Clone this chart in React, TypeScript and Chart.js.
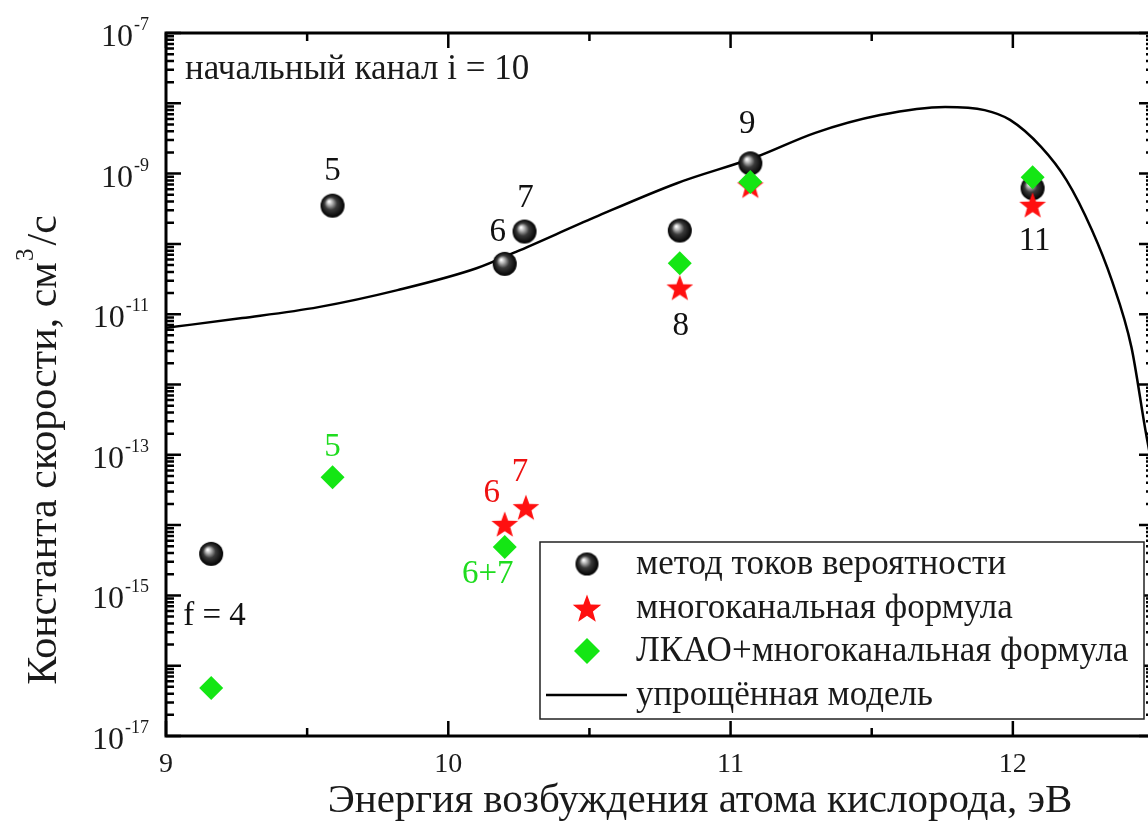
import React, { useEffect, useRef } from "react";
import { Chart, registerables } from "chart.js";

Chart.register(...registerables);

// ---------------- data ----------------
const seriesLabels = [
  "метод токов вероятности",
  "многоканальная формула",
  "ЛКАО+многоканальная формула",
  "упрощённая модель",
];

// метод токов вероятности (black spheres)
const probX = [9.16, 9.59, 10.2, 10.27, 10.82, 11.07, 12.07];
const probY = [3.9e-15, 3.5e-10, 5.2e-11, 1.5e-10, 1.55e-10, 1.4e-9, 6.2e-10];

// многоканальная формула (red stars)
const multiX = [10.2, 10.275, 10.82, 11.07, 12.07];
const multiY = [1.04e-14, 1.8e-14, 2.4e-11, 6.8e-10, 3.6e-10];

// ЛКАО+многоканальная формула (green diamonds)
const lcaoX = [9.16, 9.59, 10.2, 10.82, 11.07, 12.07];
const lcaoY = [4.8e-17, 4.8e-14, 4.9e-15, 5.3e-11, 7.6e-10, 8.9e-10];

// упрощённая модель (solid curve)
const modelX = [9.0, 9.27, 9.54, 9.82, 10.1, 10.24, 10.52, 10.81, 11.09, 11.3, 11.53, 11.76, 11.9, 11.99, 12.1, 12.19, 12.28, 12.35, 12.42, 12.47, 12.5];
const modelY = [6.4e-12, 8.8e-12, 1.26e-11, 2.2e-11, 4.5e-11, 7.7e-11, 2.4e-10, 7.3e-10, 1.72e-9, 3.8e-9, 6.8e-9, 8.85e-9, 8.0e-9, 5.8e-9, 2.4e-9, 8.1e-10, 1.58e-10, 3.07e-11, 3.4e-12, 2.2e-13, 5e-14];

// axis ticks
const xTickLabels = [9, 10, 11, 12];
const xMinorTicks = [9.5, 10.5, 11.5, 12.5];
const yLabelExps = [-7, -9, -11, -13, -15, -17];
const yDecadeExps = [-7, -8, -9, -10, -11, -12, -13, -14, -15, -16, -17];

const xTitle = "Энергия возбуждения атома кислорода, эВ";
const yTitleMain = "Константа скорости, см";
const yTitleSup = "3";
const yTitleEnd = "/с";
const channelNote = "начальный канал i = 10";

// point annotations: text, anchor x, anchor y, colour
const noteText = ["5", "6", "7", "8", "9", "11", "f = 4", "5", "6", "7", "6+7"];
const noteX = [9.59, 10.2, 10.27, 10.82, 11.07, 12.07, 9.16, 9.59, 10.2, 10.275, 10.2];
const noteY = [3.5e-10, 5.2e-11, 1.5e-10, 2.4e-11, 1.4e-9, 3.6e-10, 3.9e-15, 4.8e-14, 1.04e-14, 1.8e-14, 4.9e-15];
const noteColor = ["#111", "#111", "#111", "#111", "#111", "#111", "#111", "#1fdc1f", "#ee1111", "#ee1111", "#1fdc1f"];

// ---------------- styling ----------------
const SERIF = '"Liberation Serif", "Times New Roman", serif';
const noteDx = [0, -7, 1, 1, -3, 2, 0, 0, -13, -6, -17];
const noteDy = [-34, -32, -33, 39, -39, 37, 62, -30, -31, -35, 27];
const noteAlign: CanvasTextAlign[] = ["center", "center", "center", "center", "center", "center", "left", "center", "center", "center", "center"];

function makeSphere(r: number): HTMLCanvasElement {
  const c = document.createElement("canvas");
  const s = Math.ceil(r * 2 + 4);
  c.width = s;
  c.height = s;
  const g = c.getContext("2d")!;
  const cx = s / 2, cy = s / 2;
  const grad = g.createRadialGradient(cx - r * 0.3, cy - r * 0.35, 0.5, cx, cy, r);
  grad.addColorStop(0, "#ffffff");
  grad.addColorStop(0.18, "#bdbdbd");
  grad.addColorStop(0.5, "#3a3a3a");
  grad.addColorStop(1, "#000000");
  g.fillStyle = grad;
  g.beginPath();
  g.arc(cx, cy, r, 0, Math.PI * 2);
  g.fill();
  return c;
}

function makeStar(R: number, r: number, color: string): HTMLCanvasElement {
  const c = document.createElement("canvas");
  const s = Math.ceil(R * 2 + 4);
  c.width = s;
  c.height = s;
  const g = c.getContext("2d")!;
  const cx = s / 2, cy = s / 2 + R * 0.1;
  g.fillStyle = color;
  g.beginPath();
  for (let i = 0; i < 10; i++) {
    const rad = i % 2 === 0 ? R : r;
    const a = -Math.PI / 2 + (i * Math.PI) / 5;
    const px = cx + rad * Math.cos(a);
    const py = cy + rad * Math.sin(a);
    if (i === 0) g.moveTo(px, py);
    else g.lineTo(px, py);
  }
  g.closePath();
  g.fill();
  return c;
}

function drawSupLabel(
  ctx: CanvasRenderingContext2D,
  base: string,
  sup: string,
  rightX: number,
  baseY: number,
  baseFont: number,
  supFont: number
) {
  ctx.font = `${supFont}px ${SERIF}`;
  const sw = ctx.measureText(sup).width;
  ctx.font = `${baseFont}px ${SERIF}`;
  const bw = ctx.measureText(base).width;
  ctx.textAlign = "left";
  ctx.textBaseline = "alphabetic";
  ctx.fillText(base, rightX - sw - bw - 1, baseY);
  ctx.font = `${supFont}px ${SERIF}`;
  ctx.fillText(sup, rightX - sw, baseY - baseFont * 0.5);
}

export default function App() {
  const ref = useRef<HTMLCanvasElement | null>(null);

  useEffect(() => {
    const canvas = ref.current;
    if (!canvas) return;
    const sphere = makeSphere(12);
    const star = makeStar(14, 5.8, "#ff1010");
    const legendSphere = makeSphere(11.5);
    const legendStar = makeStar(15, 6.2, "#ff1010");

    const decorPlugin = {
      id: "decor",
      beforeDatasetsDraw(chart: any) {
        const ctx = chart.ctx as CanvasRenderingContext2D;
        ctx.save();
        ctx.globalCompositeOperation = "destination-over";
        ctx.fillStyle = "#fff";
        ctx.fillRect(0, 0, chart.width, chart.height);
        ctx.restore();
      },
      afterDatasetsDraw(chart: any) {
        const ctx = chart.ctx as CanvasRenderingContext2D;
        const xs = chart.scales.x;
        const ys = chart.scales.y;
        const { left, right, top, bottom } = chart.chartArea;
        ctx.save();
        ctx.strokeStyle = "#000";
        ctx.fillStyle = "#000";

        // frame
        ctx.lineWidth = 3;
        ctx.strokeRect(left, top, right - left, bottom - top);

        // y ticks (both sides, inward)
        ctx.lineWidth = 2.5;
        yDecadeExps.forEach((e) => {
          const yy = ys.getPixelForValue(Math.pow(10, e));
          ctx.beginPath();
          ctx.moveTo(left, yy);
          ctx.lineTo(left + 15, yy);
          ctx.moveTo(right, yy);
          ctx.lineTo(right - 15, yy);
          ctx.stroke();
          if (e > -17) {
            for (let m = 2; m <= 9; m++) {
              const my = ys.getPixelForValue(m * Math.pow(10, e - 1));
              ctx.beginPath();
              ctx.moveTo(left, my);
              ctx.lineTo(left + 8, my);
              ctx.moveTo(right, my);
              ctx.lineTo(right - 8, my);
              ctx.stroke();
            }
          }
        });
        // x ticks (top and bottom, inward)
        xTickLabels.forEach((v) => {
          const xx = xs.getPixelForValue(v);
          ctx.beginPath();
          ctx.moveTo(xx, bottom);
          ctx.lineTo(xx, bottom - 15);
          ctx.moveTo(xx, top);
          ctx.lineTo(xx, top + 15);
          ctx.stroke();
        });
        xMinorTicks.forEach((v) => {
          const xx = xs.getPixelForValue(v);
          ctx.beginPath();
          ctx.moveTo(xx, bottom);
          ctx.lineTo(xx, bottom - 8);
          ctx.moveTo(xx, top);
          ctx.lineTo(xx, top + 8);
          ctx.stroke();
        });

        // y tick labels
        ctx.fillStyle = "#1a1a1a";
        yLabelExps.forEach((e) => {
          const yy = ys.getPixelForValue(Math.pow(10, e));
          drawSupLabel(ctx, "10", String(e), 149, yy + 13, 32, 18);
        });
        // x tick labels
        ctx.font = `28px ${SERIF}`;
        ctx.textAlign = "center";
        ctx.textBaseline = "alphabetic";
        xTickLabels.forEach((v) => {
          ctx.fillText(String(v), xs.getPixelForValue(v), 772);
        });

        // x title
        ctx.font = `41px ${SERIF}`;
        ctx.textAlign = "center";
        ctx.fillText(xTitle, 700, 812);

        // y title (rotated)
        ctx.save();
        ctx.translate(56, 450);
        ctx.rotate(-Math.PI / 2);
        const tf = 42;
        ctx.font = `${tf}px ${SERIF}`;
        const w1 = ctx.measureText(yTitleMain).width;
        ctx.font = `${tf * 0.6}px ${SERIF}`;
        const w2 = ctx.measureText(yTitleSup).width;
        ctx.font = `${tf}px ${SERIF}`;
        const w3 = ctx.measureText(yTitleEnd).width;
        const total = w1 + w2 + 4 + w3;
        let cx = -total / 2;
        ctx.textAlign = "left";
        ctx.fillText(yTitleMain, cx, 0);
        cx += w1;
        ctx.font = `${tf * 0.6}px ${SERIF}`;
        ctx.fillText(yTitleSup, cx + 1, -tf * 0.55);
        cx += w2 + 4;
        ctx.font = `${tf}px ${SERIF}`;
        ctx.fillText(yTitleEnd, cx, 0);
        ctx.restore();

        // channel note
        ctx.font = `35px ${SERIF}`;
        ctx.textAlign = "left";
        ctx.fillStyle = "#1a1a1a";
        ctx.fillText(channelNote, 185, 79);

        // point annotations
        ctx.font = `33px ${SERIF}`;
        ctx.textBaseline = "middle";
        noteText.forEach((t, i) => {
          ctx.fillStyle = noteColor[i];
          ctx.textAlign = noteAlign[i];
          const px = xs.getPixelForValue(noteX[i]) + noteDx[i];
          const py = ys.getPixelForValue(noteY[i]) + noteDy[i];
          ctx.fillText(t, noteAlign[i] === "left" ? px - 28 : px, py);
        });

        // legend
        const lx = 540, ly = 542, lw = 604, lh = 177;
        ctx.fillStyle = "#fff";
        ctx.fillRect(lx, ly, lw, lh);
        ctx.strokeStyle = "#222";
        ctx.lineWidth = 1.5;
        ctx.strokeRect(lx, ly, lw, lh);
        const rowY = [564, 608, 651, 695];
        ctx.font = `35px ${SERIF}`;
        ctx.textAlign = "left";
        ctx.textBaseline = "middle";
        chart.data.datasets.forEach((ds: any, i: number) => {
          const yy = rowY[i];
          if (i === 0) ctx.drawImage(legendSphere, 587 - legendSphere.width / 2, yy - legendSphere.height / 2);
          if (i === 1) ctx.drawImage(legendStar, 587 - legendStar.width / 2, yy - legendStar.height / 2);
          if (i === 2) {
            ctx.fillStyle = ds.backgroundColor;
            ctx.beginPath();
            ctx.moveTo(587, yy - 13);
            ctx.lineTo(600, yy);
            ctx.lineTo(587, yy + 13);
            ctx.lineTo(574, yy);
            ctx.closePath();
            ctx.fill();
          }
          if (i === 3) {
            ctx.strokeStyle = "#000";
            ctx.lineWidth = 2.5;
            ctx.beginPath();
            ctx.moveTo(546, yy);
            ctx.lineTo(627, yy);
            ctx.stroke();
          }
          ctx.fillStyle = "#1a1a1a";
          ctx.fillText(ds.label, 636, yy + 1);
        });
        ctx.restore();
      },
    };

    const chart = new Chart(canvas, {
      type: "scatter",
      data: {
        datasets: [
          {
            label: seriesLabels[0],
            data: probX.map((x, i) => ({ x, y: probY[i] })),
            pointStyle: sphere as any,
            pointRadius: 12,
            backgroundColor: "#000",
            borderColor: "#000",
            order: 2,
          },
          {
            label: seriesLabels[1],
            data: multiX.map((x, i) => ({ x, y: multiY[i] })),
            pointStyle: star as any,
            pointRadius: 14,
            backgroundColor: "#ff1010",
            borderColor: "#ff1010",
            order: 1,
          },
          {
            label: seriesLabels[2],
            data: lcaoX.map((x, i) => ({ x, y: lcaoY[i] })),
            pointStyle: "rectRot",
            pointRadius: 12,
            borderWidth: 0,
            backgroundColor: "#14e614",
            borderColor: "#14e614",
            order: 0,
          },
          {
            type: "line" as any,
            label: seriesLabels[3],
            data: modelX.map((x, i) => ({ x, y: modelY[i] })),
            showLine: true,
            pointRadius: 0,
            borderColor: "#000",
            borderWidth: 2.5,
            fill: false,
            cubicInterpolationMode: "monotone",
            order: 4,
          } as any,
        ],
      },
      options: {
        animation: false,
        responsive: false,
        devicePixelRatio: 1,
        layout: { padding: { left: 166, top: 33, right: 16, bottom: 95 } },
        plugins: { legend: { display: false }, tooltip: { enabled: false } },
        scales: {
          x: { type: "linear", min: 9, max: 12.5, display: false },
          y: { type: "logarithmic", min: 1e-17, max: 1e-7, display: false },
        },
      },
      plugins: [decorPlugin],
    });
    return () => chart.destroy();
  }, []);

  return (
    <div style={{ position: "fixed", left: 0, top: 0, width: 1148, height: 831, overflow: "hidden", background: "#fff" }}>
      <canvas ref={ref} width={1170} height={831} style={{ display: "block", width: 1170, height: 831 }} />
    </div>
  );
}
